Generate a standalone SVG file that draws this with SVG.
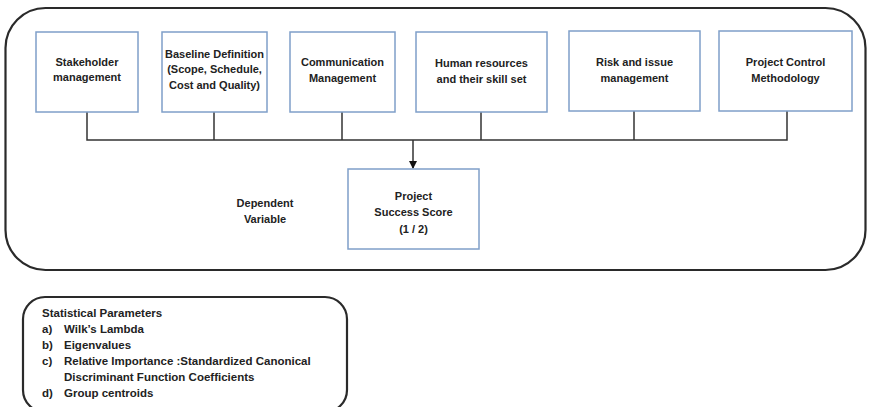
<svg xmlns="http://www.w3.org/2000/svg" width="869" height="407" viewBox="0 0 869 407">
<style>
.frame{fill:none;stroke:#2a2a2a;stroke-width:2.2}
.box{fill:#fff;stroke:#7f9fc9;stroke-width:1.5}
.t{font-family:"Liberation Sans",Arial,sans-serif;font-weight:bold;font-size:11px;fill:#222;text-anchor:middle}
.l{font-family:"Liberation Sans",Arial,sans-serif;font-weight:bold;font-size:11.5px;fill:#222}
.c{fill:none;stroke:#333;stroke-width:1.5}
</style>
<defs>
<marker id="ah" markerWidth="8" markerHeight="8" refX="7" refY="4" orient="auto" markerUnits="userSpaceOnUse">
<path d="M0,0 L8,4 L0,8 Z" fill="#111"/>
</marker>
</defs>
<rect class="frame" x="5.5" y="8" width="860" height="262" rx="40" ry="40"/>
<g id="connectors">
<path class="c" d="M87,112 V140 H787 V111"/>
<path class="c" d="M214,112 V140"/>
<path class="c" d="M342,112 V140"/>
<path class="c" d="M481,112 V140"/>
<path class="c" d="M634,111 V140"/>
<path class="c" d="M413,140 V168" marker-end="url(#ah)"/>
</g>
<g id="n1"><rect class="box" x="36" y="32" width="102" height="80"/>
<text class="t" x="87" y="66">Stakeholder</text><text class="t" x="87" y="81">management</text></g>
<g id="n2"><rect class="box" x="162" y="32" width="105" height="80"/>
<text class="t" x="214.5" y="58">Baseline Definition</text><text class="t" x="214.5" y="73">(Scope, Schedule,</text><text class="t" x="214.5" y="89">Cost and Quality)</text></g>
<g id="n3"><rect class="box" x="290" y="32" width="105" height="80"/>
<text class="t" x="342.5" y="66">Communication</text><text class="t" x="342.5" y="82">Management</text></g>
<g id="n4"><rect class="box" x="416" y="32" width="131" height="80"/>
<text class="t" x="481.5" y="67">Human resources</text><text class="t" x="481.5" y="83">and their skill set</text></g>
<g id="n5"><rect class="box" x="569" y="31" width="131" height="80"/>
<text class="t" x="634.5" y="66">Risk and issue</text><text class="t" x="634.5" y="82">management</text></g>
<g id="n6"><rect class="box" x="719" y="31" width="133" height="80"/>
<text class="t" x="785.5" y="66">Project Control</text><text class="t" x="785.5" y="82">Methodology</text></g>
<g id="dv"><text class="t" x="265" y="207">Dependent</text><text class="t" x="265" y="223">Variable</text></g>
<g id="n7"><rect class="box" x="348" y="169" width="131" height="80"/>
<text class="t" x="413.5" y="200">Project</text><text class="t" x="413.5" y="216">Success Score</text><text class="t" x="413.5" y="233">(1 / 2)</text></g>
<g id="stats">
<rect class="frame" x="23" y="297" width="324" height="115" rx="22" ry="22"/>
<text class="l" x="42" y="317">Statistical Parameters</text>
<text class="l" x="42" y="333">a)</text><text class="l" x="64" y="333">Wilk’s Lambda</text>
<text class="l" x="42" y="349">b)</text><text class="l" x="64" y="349">Eigenvalues</text>
<text class="l" x="42" y="365">c)</text><text class="l" x="64" y="365">Relative Importance :Standardized Canonical</text>
<text class="l" x="64" y="381">Discriminant Function Coefficients</text>
<text class="l" x="42" y="397">d)</text><text class="l" x="64" y="397">Group centroids</text>
</g>
</svg>
